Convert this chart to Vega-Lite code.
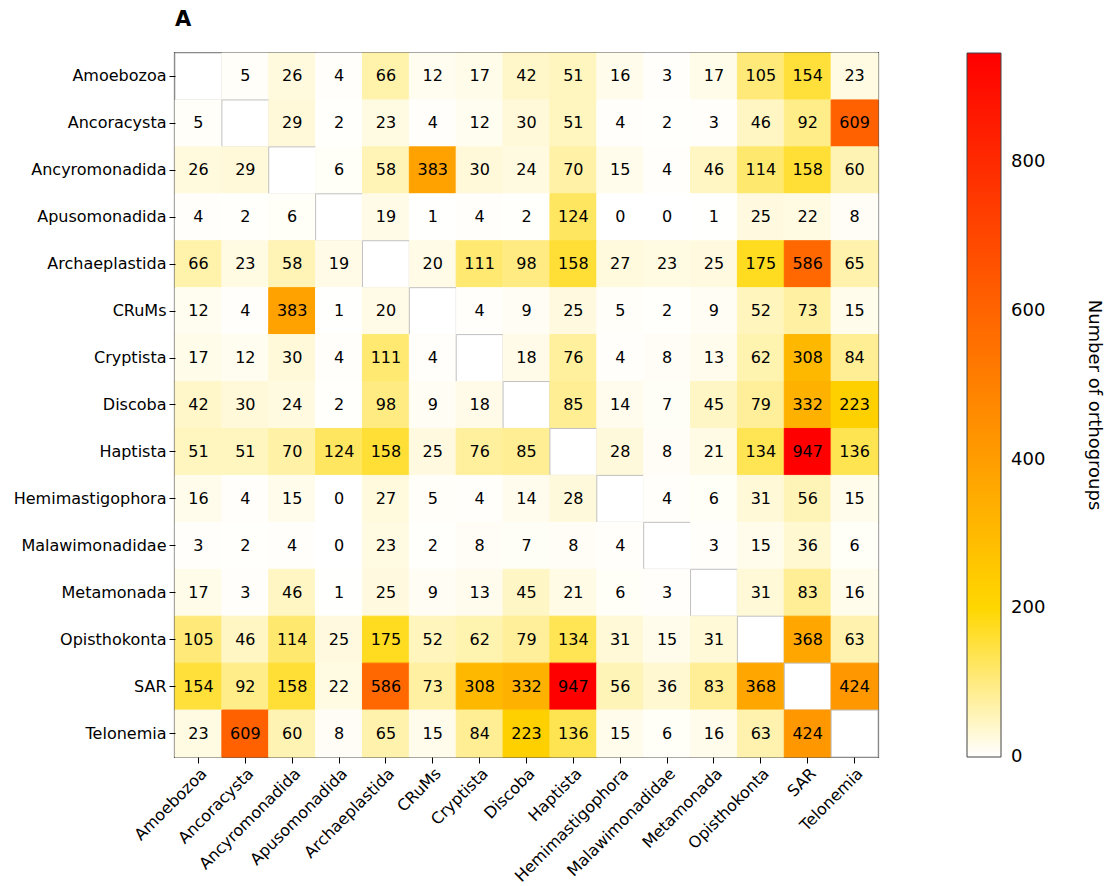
{
  "$schema": "https://vega.github.io/schema/vega-lite/v6.json",
  "autosize": "none",
  "padding": {"left": 175, "top": 53, "right": 227, "bottom": 129},
  "width": 703,
  "height": 704,
  "title": {"text": "A", "anchor": "start", "frame": "group", "fontSize": 21, "fontWeight": "bold", "offset": 23, "color": "#000000", "font": "DejaVu Sans"},
  "config": {
    "font": "DejaVu Sans",
    "view": {"stroke": "#555555", "strokeWidth": 2.2},
    "axis": {"labelFont": "DejaVu Sans", "labelColor": "#000000", "tickColor": "#000000", "domain": false, "grid": false, "title": null}
  },
  "data": {"values": [
    {"row":"Amoebozoa","col":"Amoebozoa","n":null},{"row":"Amoebozoa","col":"Ancoracysta","n":5},{"row":"Amoebozoa","col":"Ancyromonadida","n":26},{"row":"Amoebozoa","col":"Apusomonadida","n":4},{"row":"Amoebozoa","col":"Archaeplastida","n":66},{"row":"Amoebozoa","col":"CRuMs","n":12},{"row":"Amoebozoa","col":"Cryptista","n":17},{"row":"Amoebozoa","col":"Discoba","n":42},{"row":"Amoebozoa","col":"Haptista","n":51},{"row":"Amoebozoa","col":"Hemimastigophora","n":16},{"row":"Amoebozoa","col":"Malawimonadidae","n":3},{"row":"Amoebozoa","col":"Metamonada","n":17},{"row":"Amoebozoa","col":"Opisthokonta","n":105},{"row":"Amoebozoa","col":"SAR","n":154},{"row":"Amoebozoa","col":"Telonemia","n":23},
    {"row":"Ancoracysta","col":"Amoebozoa","n":5},{"row":"Ancoracysta","col":"Ancoracysta","n":null},{"row":"Ancoracysta","col":"Ancyromonadida","n":29},{"row":"Ancoracysta","col":"Apusomonadida","n":2},{"row":"Ancoracysta","col":"Archaeplastida","n":23},{"row":"Ancoracysta","col":"CRuMs","n":4},{"row":"Ancoracysta","col":"Cryptista","n":12},{"row":"Ancoracysta","col":"Discoba","n":30},{"row":"Ancoracysta","col":"Haptista","n":51},{"row":"Ancoracysta","col":"Hemimastigophora","n":4},{"row":"Ancoracysta","col":"Malawimonadidae","n":2},{"row":"Ancoracysta","col":"Metamonada","n":3},{"row":"Ancoracysta","col":"Opisthokonta","n":46},{"row":"Ancoracysta","col":"SAR","n":92},{"row":"Ancoracysta","col":"Telonemia","n":609},
    {"row":"Ancyromonadida","col":"Amoebozoa","n":26},{"row":"Ancyromonadida","col":"Ancoracysta","n":29},{"row":"Ancyromonadida","col":"Ancyromonadida","n":null},{"row":"Ancyromonadida","col":"Apusomonadida","n":6},{"row":"Ancyromonadida","col":"Archaeplastida","n":58},{"row":"Ancyromonadida","col":"CRuMs","n":383},{"row":"Ancyromonadida","col":"Cryptista","n":30},{"row":"Ancyromonadida","col":"Discoba","n":24},{"row":"Ancyromonadida","col":"Haptista","n":70},{"row":"Ancyromonadida","col":"Hemimastigophora","n":15},{"row":"Ancyromonadida","col":"Malawimonadidae","n":4},{"row":"Ancyromonadida","col":"Metamonada","n":46},{"row":"Ancyromonadida","col":"Opisthokonta","n":114},{"row":"Ancyromonadida","col":"SAR","n":158},{"row":"Ancyromonadida","col":"Telonemia","n":60},
    {"row":"Apusomonadida","col":"Amoebozoa","n":4},{"row":"Apusomonadida","col":"Ancoracysta","n":2},{"row":"Apusomonadida","col":"Ancyromonadida","n":6},{"row":"Apusomonadida","col":"Apusomonadida","n":null},{"row":"Apusomonadida","col":"Archaeplastida","n":19},{"row":"Apusomonadida","col":"CRuMs","n":1},{"row":"Apusomonadida","col":"Cryptista","n":4},{"row":"Apusomonadida","col":"Discoba","n":2},{"row":"Apusomonadida","col":"Haptista","n":124},{"row":"Apusomonadida","col":"Hemimastigophora","n":0},{"row":"Apusomonadida","col":"Malawimonadidae","n":0},{"row":"Apusomonadida","col":"Metamonada","n":1},{"row":"Apusomonadida","col":"Opisthokonta","n":25},{"row":"Apusomonadida","col":"SAR","n":22},{"row":"Apusomonadida","col":"Telonemia","n":8},
    {"row":"Archaeplastida","col":"Amoebozoa","n":66},{"row":"Archaeplastida","col":"Ancoracysta","n":23},{"row":"Archaeplastida","col":"Ancyromonadida","n":58},{"row":"Archaeplastida","col":"Apusomonadida","n":19},{"row":"Archaeplastida","col":"Archaeplastida","n":null},{"row":"Archaeplastida","col":"CRuMs","n":20},{"row":"Archaeplastida","col":"Cryptista","n":111},{"row":"Archaeplastida","col":"Discoba","n":98},{"row":"Archaeplastida","col":"Haptista","n":158},{"row":"Archaeplastida","col":"Hemimastigophora","n":27},{"row":"Archaeplastida","col":"Malawimonadidae","n":23},{"row":"Archaeplastida","col":"Metamonada","n":25},{"row":"Archaeplastida","col":"Opisthokonta","n":175},{"row":"Archaeplastida","col":"SAR","n":586},{"row":"Archaeplastida","col":"Telonemia","n":65},
    {"row":"CRuMs","col":"Amoebozoa","n":12},{"row":"CRuMs","col":"Ancoracysta","n":4},{"row":"CRuMs","col":"Ancyromonadida","n":383},{"row":"CRuMs","col":"Apusomonadida","n":1},{"row":"CRuMs","col":"Archaeplastida","n":20},{"row":"CRuMs","col":"CRuMs","n":null},{"row":"CRuMs","col":"Cryptista","n":4},{"row":"CRuMs","col":"Discoba","n":9},{"row":"CRuMs","col":"Haptista","n":25},{"row":"CRuMs","col":"Hemimastigophora","n":5},{"row":"CRuMs","col":"Malawimonadidae","n":2},{"row":"CRuMs","col":"Metamonada","n":9},{"row":"CRuMs","col":"Opisthokonta","n":52},{"row":"CRuMs","col":"SAR","n":73},{"row":"CRuMs","col":"Telonemia","n":15},
    {"row":"Cryptista","col":"Amoebozoa","n":17},{"row":"Cryptista","col":"Ancoracysta","n":12},{"row":"Cryptista","col":"Ancyromonadida","n":30},{"row":"Cryptista","col":"Apusomonadida","n":4},{"row":"Cryptista","col":"Archaeplastida","n":111},{"row":"Cryptista","col":"CRuMs","n":4},{"row":"Cryptista","col":"Cryptista","n":null},{"row":"Cryptista","col":"Discoba","n":18},{"row":"Cryptista","col":"Haptista","n":76},{"row":"Cryptista","col":"Hemimastigophora","n":4},{"row":"Cryptista","col":"Malawimonadidae","n":8},{"row":"Cryptista","col":"Metamonada","n":13},{"row":"Cryptista","col":"Opisthokonta","n":62},{"row":"Cryptista","col":"SAR","n":308},{"row":"Cryptista","col":"Telonemia","n":84},
    {"row":"Discoba","col":"Amoebozoa","n":42},{"row":"Discoba","col":"Ancoracysta","n":30},{"row":"Discoba","col":"Ancyromonadida","n":24},{"row":"Discoba","col":"Apusomonadida","n":2},{"row":"Discoba","col":"Archaeplastida","n":98},{"row":"Discoba","col":"CRuMs","n":9},{"row":"Discoba","col":"Cryptista","n":18},{"row":"Discoba","col":"Discoba","n":null},{"row":"Discoba","col":"Haptista","n":85},{"row":"Discoba","col":"Hemimastigophora","n":14},{"row":"Discoba","col":"Malawimonadidae","n":7},{"row":"Discoba","col":"Metamonada","n":45},{"row":"Discoba","col":"Opisthokonta","n":79},{"row":"Discoba","col":"SAR","n":332},{"row":"Discoba","col":"Telonemia","n":223},
    {"row":"Haptista","col":"Amoebozoa","n":51},{"row":"Haptista","col":"Ancoracysta","n":51},{"row":"Haptista","col":"Ancyromonadida","n":70},{"row":"Haptista","col":"Apusomonadida","n":124},{"row":"Haptista","col":"Archaeplastida","n":158},{"row":"Haptista","col":"CRuMs","n":25},{"row":"Haptista","col":"Cryptista","n":76},{"row":"Haptista","col":"Discoba","n":85},{"row":"Haptista","col":"Haptista","n":null},{"row":"Haptista","col":"Hemimastigophora","n":28},{"row":"Haptista","col":"Malawimonadidae","n":8},{"row":"Haptista","col":"Metamonada","n":21},{"row":"Haptista","col":"Opisthokonta","n":134},{"row":"Haptista","col":"SAR","n":947},{"row":"Haptista","col":"Telonemia","n":136},
    {"row":"Hemimastigophora","col":"Amoebozoa","n":16},{"row":"Hemimastigophora","col":"Ancoracysta","n":4},{"row":"Hemimastigophora","col":"Ancyromonadida","n":15},{"row":"Hemimastigophora","col":"Apusomonadida","n":0},{"row":"Hemimastigophora","col":"Archaeplastida","n":27},{"row":"Hemimastigophora","col":"CRuMs","n":5},{"row":"Hemimastigophora","col":"Cryptista","n":4},{"row":"Hemimastigophora","col":"Discoba","n":14},{"row":"Hemimastigophora","col":"Haptista","n":28},{"row":"Hemimastigophora","col":"Hemimastigophora","n":null},{"row":"Hemimastigophora","col":"Malawimonadidae","n":4},{"row":"Hemimastigophora","col":"Metamonada","n":6},{"row":"Hemimastigophora","col":"Opisthokonta","n":31},{"row":"Hemimastigophora","col":"SAR","n":56},{"row":"Hemimastigophora","col":"Telonemia","n":15},
    {"row":"Malawimonadidae","col":"Amoebozoa","n":3},{"row":"Malawimonadidae","col":"Ancoracysta","n":2},{"row":"Malawimonadidae","col":"Ancyromonadida","n":4},{"row":"Malawimonadidae","col":"Apusomonadida","n":0},{"row":"Malawimonadidae","col":"Archaeplastida","n":23},{"row":"Malawimonadidae","col":"CRuMs","n":2},{"row":"Malawimonadidae","col":"Cryptista","n":8},{"row":"Malawimonadidae","col":"Discoba","n":7},{"row":"Malawimonadidae","col":"Haptista","n":8},{"row":"Malawimonadidae","col":"Hemimastigophora","n":4},{"row":"Malawimonadidae","col":"Malawimonadidae","n":null},{"row":"Malawimonadidae","col":"Metamonada","n":3},{"row":"Malawimonadidae","col":"Opisthokonta","n":15},{"row":"Malawimonadidae","col":"SAR","n":36},{"row":"Malawimonadidae","col":"Telonemia","n":6},
    {"row":"Metamonada","col":"Amoebozoa","n":17},{"row":"Metamonada","col":"Ancoracysta","n":3},{"row":"Metamonada","col":"Ancyromonadida","n":46},{"row":"Metamonada","col":"Apusomonadida","n":1},{"row":"Metamonada","col":"Archaeplastida","n":25},{"row":"Metamonada","col":"CRuMs","n":9},{"row":"Metamonada","col":"Cryptista","n":13},{"row":"Metamonada","col":"Discoba","n":45},{"row":"Metamonada","col":"Haptista","n":21},{"row":"Metamonada","col":"Hemimastigophora","n":6},{"row":"Metamonada","col":"Malawimonadidae","n":3},{"row":"Metamonada","col":"Metamonada","n":null},{"row":"Metamonada","col":"Opisthokonta","n":31},{"row":"Metamonada","col":"SAR","n":83},{"row":"Metamonada","col":"Telonemia","n":16},
    {"row":"Opisthokonta","col":"Amoebozoa","n":105},{"row":"Opisthokonta","col":"Ancoracysta","n":46},{"row":"Opisthokonta","col":"Ancyromonadida","n":114},{"row":"Opisthokonta","col":"Apusomonadida","n":25},{"row":"Opisthokonta","col":"Archaeplastida","n":175},{"row":"Opisthokonta","col":"CRuMs","n":52},{"row":"Opisthokonta","col":"Cryptista","n":62},{"row":"Opisthokonta","col":"Discoba","n":79},{"row":"Opisthokonta","col":"Haptista","n":134},{"row":"Opisthokonta","col":"Hemimastigophora","n":31},{"row":"Opisthokonta","col":"Malawimonadidae","n":15},{"row":"Opisthokonta","col":"Metamonada","n":31},{"row":"Opisthokonta","col":"Opisthokonta","n":null},{"row":"Opisthokonta","col":"SAR","n":368},{"row":"Opisthokonta","col":"Telonemia","n":63},
    {"row":"SAR","col":"Amoebozoa","n":154},{"row":"SAR","col":"Ancoracysta","n":92},{"row":"SAR","col":"Ancyromonadida","n":158},{"row":"SAR","col":"Apusomonadida","n":22},{"row":"SAR","col":"Archaeplastida","n":586},{"row":"SAR","col":"CRuMs","n":73},{"row":"SAR","col":"Cryptista","n":308},{"row":"SAR","col":"Discoba","n":332},{"row":"SAR","col":"Haptista","n":947},{"row":"SAR","col":"Hemimastigophora","n":56},{"row":"SAR","col":"Malawimonadidae","n":36},{"row":"SAR","col":"Metamonada","n":83},{"row":"SAR","col":"Opisthokonta","n":368},{"row":"SAR","col":"SAR","n":null},{"row":"SAR","col":"Telonemia","n":424},
    {"row":"Telonemia","col":"Amoebozoa","n":23},{"row":"Telonemia","col":"Ancoracysta","n":609},{"row":"Telonemia","col":"Ancyromonadida","n":60},{"row":"Telonemia","col":"Apusomonadida","n":8},{"row":"Telonemia","col":"Archaeplastida","n":65},{"row":"Telonemia","col":"CRuMs","n":15},{"row":"Telonemia","col":"Cryptista","n":84},{"row":"Telonemia","col":"Discoba","n":223},{"row":"Telonemia","col":"Haptista","n":136},{"row":"Telonemia","col":"Hemimastigophora","n":15},{"row":"Telonemia","col":"Malawimonadidae","n":6},{"row":"Telonemia","col":"Metamonada","n":16},{"row":"Telonemia","col":"Opisthokonta","n":63},{"row":"Telonemia","col":"SAR","n":424},{"row":"Telonemia","col":"Telonemia","n":null}
  ]},
  "encoding": {
    "x": {"field": "col", "type": "nominal",
      "sort": ["Amoebozoa","Ancoracysta","Ancyromonadida","Apusomonadida","Archaeplastida","CRuMs","Cryptista","Discoba","Haptista","Hemimastigophora","Malawimonadidae","Metamonada","Opisthokonta","SAR","Telonemia"],
      "scale": {"paddingInner": 0, "paddingOuter": 0},
      "axis": {"labelAngle": -45, "labelAlign": "right", "labelBaseline": "top", "labelFontSize": 16, "tickSize": 6, "labelPadding": 2, "labelLimit": 300}},
    "y": {"field": "row", "type": "nominal",
      "sort": ["Amoebozoa","Ancoracysta","Ancyromonadida","Apusomonadida","Archaeplastida","CRuMs","Cryptista","Discoba","Haptista","Hemimastigophora","Malawimonadidae","Metamonada","Opisthokonta","SAR","Telonemia"],
      "scale": {"paddingInner": 0, "paddingOuter": 0},
      "axis": {"labelFontSize": 16, "tickSize": 6, "labelPadding": 3, "labelLimit": 300}}
  },
  "layer": [
    {
      "mark": {"type": "rect", "strokeWidth": 1, "invalid": "show"},
      "encoding": {
        "fill": {"field": "n", "type": "quantitative",
          "scale": {"domain": [0, 200, 947], "range": ["#ffffff", "#ffd700", "#ff0000"], "interpolate": "rgb"},
          "legend": {"type": "gradient", "orient": "right", "offset": 89, "gradientLength": 704, "gradientThickness": 34, "direction": "vertical",
            "values": [0, 200, 400, 600, 800], "title": "Number of orthogroups", "titleOrient": "right", "titleAngle": 90, "titleLimit": 900,
            "titleFontSize": 18, "titleFontWeight": "normal", "titleColor": "#000000", "titleAnchor": "middle", "titleBaseline": "bottom", "titlePadding": 40,
            "labelFontSize": 18, "labelColor": "#000000", "labelBaseline": "middle", "labelOffset": 10,
            "gradientStrokeColor": "#444444", "gradientStrokeWidth": 1,
            "encode": {"labels": {"update": {"baseline": {"value": "middle"}}}}}},
        "stroke": {"condition": {"test": "datum.n == null", "value": "#c0c0c0"}, "field": "n", "type": "quantitative",
          "scale": {"domain": [0, 200, 947.5], "range": ["#ffffff", "#ffd700", "#ff0000"], "interpolate": "rgb"}, "legend": null}
      }
    },
    {
      "transform": [{"filter": "datum.n != null"}],
      "mark": {"type": "text", "fontSize": 16, "color": "#000000", "font": "DejaVu Sans", "baseline": "middle", "align": "center"},
      "encoding": {"text": {"field": "n", "type": "quantitative"}}
    }
  ]
}
